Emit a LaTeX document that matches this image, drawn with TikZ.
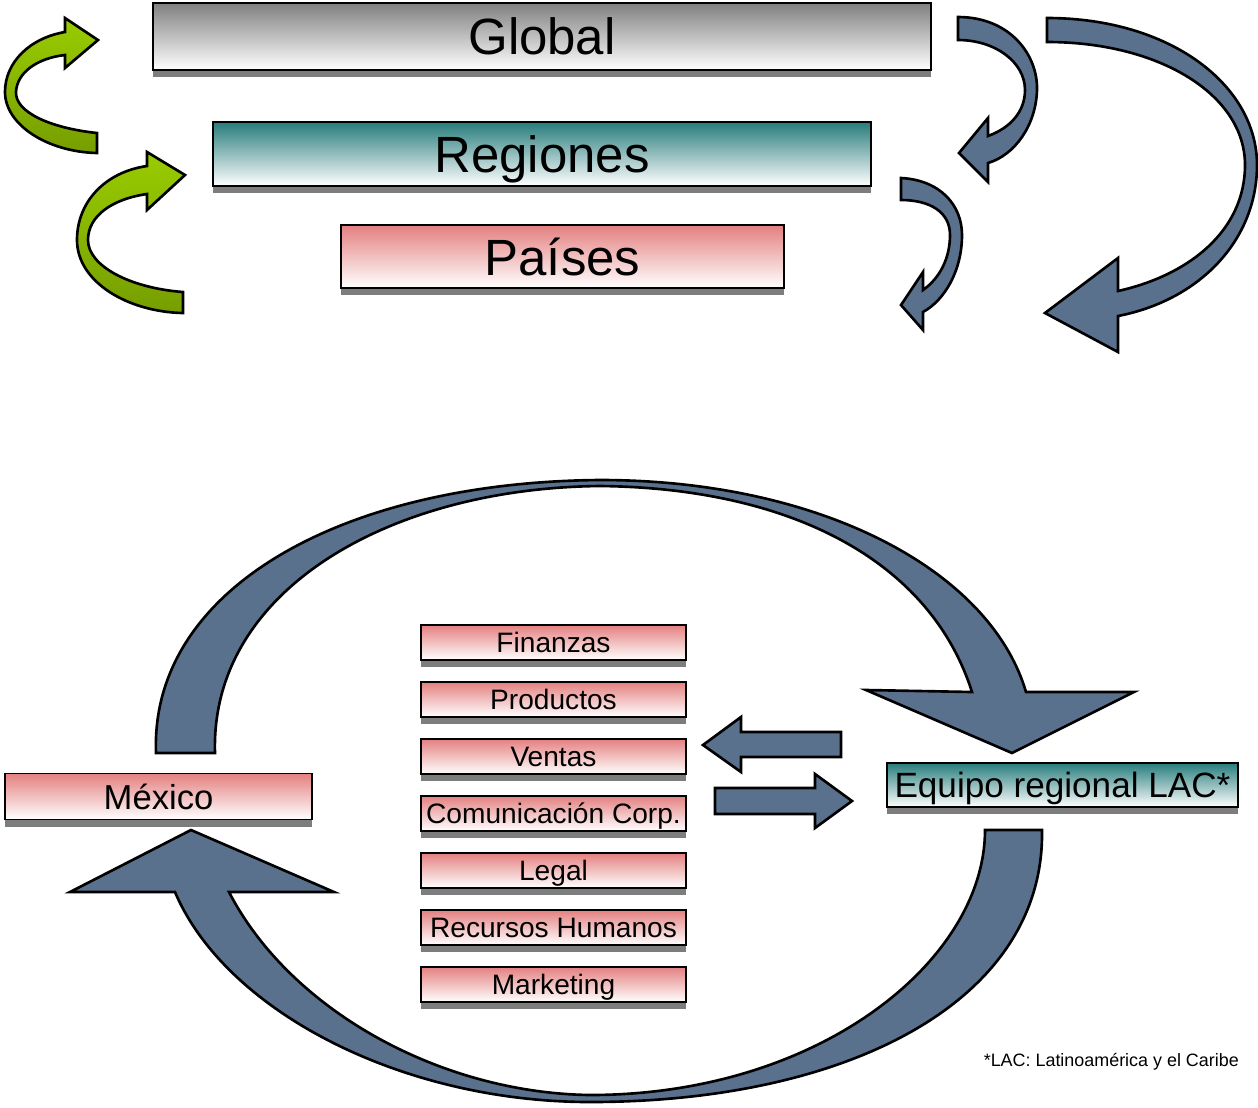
\documentclass[tikz,border=0pt]{standalone}
\usepackage{fontspec}
\setmainfont{Liberation Sans}
\usetikzlibrary{shadows, positioning}
\definecolor{greytop}{RGB}{128,128,128}
\definecolor{tealtop}{RGB}{40,124,124}
\definecolor{pinktop}{RGB}{228,128,128}
\definecolor{shadowgrey}{RGB}{125,125,125}
\definecolor{slate}{RGB}{90,113,142}
\definecolor{lime}{RGB}{153,204,0}
\definecolor{limedark}{RGB}{118,158,0}
\tikzstyle{block} = [rectangle, draw=black, line width=0.7pt, inner sep=0pt, text centered, text depth=0pt, drop shadow={shadow xshift=0pt, shadow yshift=-0.14cm, fill=shadowgrey, opacity=1}]
\tikzstyle{grey_block} = [block, top color=greytop, bottom color=white]
\tikzstyle{teal_block} = [block, top color=tealtop, bottom color=white]
\tikzstyle{pink_block} = [block, top color=pinktop, bottom color=white]
\tikzstyle{item_block} = [pink_block, minimum width=5.3cm, minimum height=0.7cm, font=\fontsize{16}{18}\selectfont]
\tikzstyle{blue_arrow} = [draw=black, line width=1.5pt, fill=slate]
\tikzstyle{green_arrow} = [draw=black, line width=1.5pt, top color=lime, bottom color=limedark]

\begin{document}
\begin{tikzpicture}[x=0.02cm, y=-0.02cm, node distance=1.14cm]
		\useasboundingbox (0,0) rectangle (1258,1107);
		% levels
		\node (global) [grey_block, minimum width=15.56cm, minimum height=1.34cm, font=\fontsize{29}{34}\selectfont] at (542,36.5) {Global};
		\node (regiones) [teal_block, minimum width=13.16cm, minimum height=1.28cm, font=\fontsize{29}{34}\selectfont] at (542,154) {Regiones};
		\node (paises) [pink_block, minimum width=8.86cm, minimum height=1.26cm, font=\fontsize{29}{34}\selectfont] at (562.5,256.5) {Países};

		\draw [green_arrow] (97,133) .. controls (50,128) and (15,112) .. (16,92) .. controls (17,72) and (38,58) .. (65,55) -- (65,68) -- (98,40) -- (65,18) -- (65,32) .. controls (30,38) and (5,62) .. (5,92) .. controls (5,125) and (48,152) .. (97,153) -- cycle;
		\draw [green_arrow] (183,292) .. controls (130,288) and (88,266) .. (88,240) .. controls (88,216) and (112,199) .. (147,194) -- (147,210) -- (185,175) -- (147,152) -- (147,166) .. controls (105,172) and (77,202) .. (77,240) .. controls (77,282) and (128,312) .. (183,313) -- cycle;

		\draw [blue_arrow] (958,17) .. controls (1010,17) and (1038,55) .. (1037,90) .. controls (1036,125) and (1015,155) .. (988,163) -- (988,182) -- (959,153) -- (988,118) -- (988,136) .. controls (1010,128) and (1025,112) .. (1025,90) .. controls (1025,62) and (995,40) .. (958,40) -- cycle;
		\draw [blue_arrow] (901,178) .. controls (940,180) and (962,205) .. (962,235) .. controls (962,270) and (945,300) .. (923,312) -- (923,330) -- (901,305) -- (923,272) -- (923,290) .. controls (940,278) and (950,258) .. (950,235) .. controls (950,212) and (930,200) .. (901,200) -- cycle;
		\draw [blue_arrow] (1047,18) .. controls (1170,18) and (1257,85) .. (1257,165) .. controls (1257,240) and (1200,300) .. (1118,316) -- (1118,352) -- (1045,313) -- (1118,258) -- (1118,291) .. controls (1190,275) and (1245,230) .. (1245,165) .. controls (1245,95) and (1160,42) .. (1047,42) -- cycle;

		% cycle
		\node (mexico) [pink_block, minimum width=6.14cm, minimum height=0.92cm, font=\fontsize{19.7}{22}\selectfont] at (158.5,796.5) {México};
		\node (lac) [teal_block, minimum width=7.02cm, minimum height=0.88cm, font=\fontsize{20}{24}\selectfont] at (1062.5,785) {Equipo regional LAC*};

		\node (fin) [item_block] at (553.5,642.5) {Finanzas};
		\node (prod) [item_block, below of=fin] {Productos};
		\node (ventas) [item_block, below of=prod] {Ventas};
		\node (com) [item_block, below of=ventas] {Comunicación Corp.};
		\node (legal) [item_block, below of=com] {Legal};
		\node (rh) [item_block, below of=legal] {Recursos Humanos};
		\node (mkt) [item_block, below of=rh] {Marketing};

		\draw [blue_arrow] (156,753) .. controls (150,590) and (340,482) .. (600,480) .. controls (820,480) and (990,570) .. (1026,692) -- (1134,692) -- (1012,753) -- (866,690) -- (972,692) .. controls (930,560) and (790,488) .. (600,486) .. controls (390,488) and (210,590) .. (215,753) -- cycle;
		\draw [blue_arrow] (175,892) -- (70,892) -- (191,830) -- (334,892) -- (229,892) .. controls (290,1010) and (440,1093) .. (590,1095) .. controls (820,1095) and (985,960) .. (985,830) -- (1042,830) .. controls (1045,1000) and (850,1102) .. (590,1102) .. controls (400,1102) and (225,1010) .. (175,892) -- cycle;

		\draw [blue_arrow] (841,732) -- (741,732) -- (741,717) -- (703,745) -- (741,772) -- (741,757) -- (841,757) -- cycle;
		\draw [blue_arrow] (715,788) -- (815,788) -- (815,774) -- (852,801) -- (815,828) -- (815,814) -- (715,814) -- cycle;

		\node (note) [anchor=east, font=\fontsize{10.2}{12}\selectfont] at (1245,1062) {*LAC: Latinoamérica y el Caribe};
\end{tikzpicture}
\end{document}
